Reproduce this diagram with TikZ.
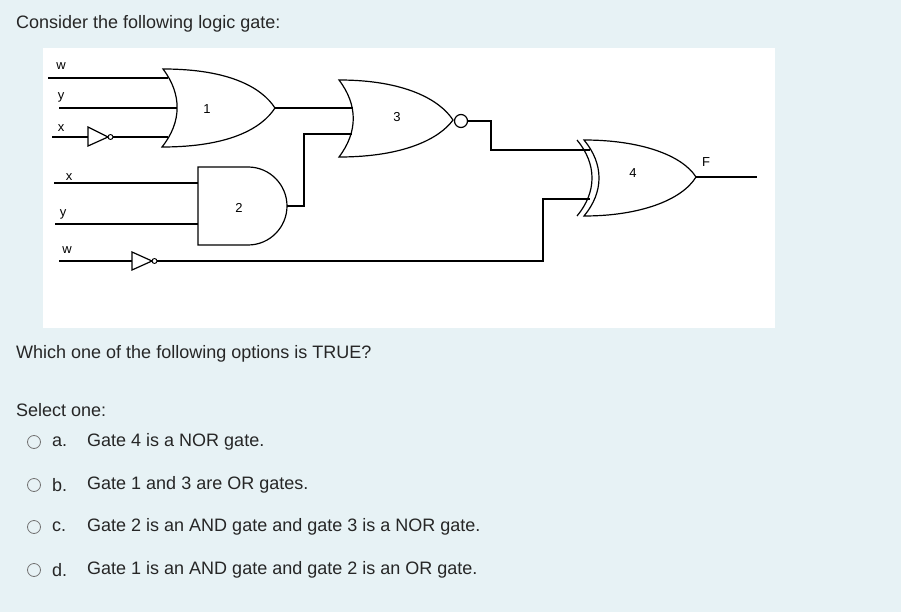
\documentclass[tikz,border=0pt]{standalone}
\usepackage{fontspec}
\setmainfont{Liberation Sans}
\begin{document}
\begin{tikzpicture}[x=1pt,y=-1pt,
  w/.style={line width=1.3pt,draw=black},
  g/.style={line width=1.2pt,draw=black},
  lab/.style={font=\fontsize{13}{15}\selectfont,inner sep=0pt},
  txt/.style={font=\fontsize{18}{21}\selectfont,text=black!85,inner sep=0pt,anchor=west},
  rad/.style={draw=black!55,line width=0.8pt,circle,minimum size=13pt,inner sep=0pt}]
\fill[fill={rgb,255:red,231;green,242;blue,245}] (0,0) rectangle (901,612);
\useasboundingbox (0,0) rectangle (901,612);
\fill[white] (43,48) rectangle (775,328);
% gate 1 OR
\draw[g] (163,69) .. controls (230,69) and (262,88) .. (275,108) .. controls (262,128) and (230,147) .. (162,147) .. controls (182,122) and (182,94) .. cycle;
% gate 3 NOR
\draw[g] (339,80) .. controls (405,80) and (440,100) .. (453,120) .. controls (440,138) and (405,157) .. (339,157) .. controls (358,132) and (358,105) .. cycle;
\node[draw,circle,line width=1.2pt,minimum size=13pt,inner sep=0pt] (b3) at (461,121) {};
% gate 2 AND
\draw[g] (198,167) -- (248,167) .. controls (270,167) and (287,185) .. (287,206) .. controls (287,227) and (270,245) .. (248,245) -- (198,245) -- cycle;
% gate 4 XOR
\draw[g] (584,140) .. controls (640,140) and (682,155) .. (696,177) .. controls (682,200) and (640,216) .. (584,216) .. controls (604,192) and (604,164) .. cycle;
\draw[g] (577,140) .. controls (597,164) and (597,192) .. (577,216);
% inverters
\draw[g] (88,127) -- (108,137) -- (88,146) -- cycle;
\node[draw,circle,line width=0.9pt,minimum size=5pt,inner sep=0pt] (i1) at (110.5,137) {};
\draw[g] (132,252) -- (152,261) -- (132,270) -- cycle;
\node[draw,circle,line width=0.9pt,minimum size=5pt,inner sep=0pt] (i2) at (154.5,261) {};
% wires
\draw[w] (48,78) -- (168,78);
\draw[w] (59,108) -- (177,108);
\draw[w] (52,137) -- (88,137);
\draw[w] (i1.east) -- (168,137);
\draw[w] (275,108) -- (353,108);
\draw[w] (287,206) -- (304,206) -- (304,134) -- (352,134);
\draw[w] (54,183) -- (198,183);
\draw[w] (55,224) -- (198,224);
\draw[w] (59,261) -- (132,261);
\draw[w] (i2.east) -- (543,261) -- (543,199) -- (590,199);
\draw[w] (b3.east) -- (491,121) -- (491,150) -- (590,150);
\draw[w] (696,177) -- (757,177);
% labels
\node[lab] at (61,66) {w};
\node[lab] at (61,97) {y};
\node[lab] at (61,128) {x};
\node[lab] at (69,177) {x};
\node[lab] at (63,214) {y};
\node[lab] at (67,250) {w};
\node[lab] at (207,109) {1};
\node[lab] at (397,117) {3};
\node[lab] at (239,208) {2};
\node[lab] at (633,173) {4};
\node[lab] at (706,162) {F};
% text
\node[txt] at (16,24) {Consider the following logic gate:};
\node[txt] at (16,354) {Which one of the following options is TRUE?};
\node[txt] at (16,410) {Select one:};
\foreach \y/\l/\t in {442/a./Gate 4 is a NOR gate.,485/b./Gate 1 and 3 are OR gates.,527/c./Gate 2 is an AND gate and gate 3 is a NOR gate.,570/d./Gate 1 is an AND gate and gate 2 is an OR gate.}{
  \node[rad] at (34,\y) {};
  \node[txt] at (52,\y) {\l};
  \node[txt] at (87,\y) {\t};
}
\end{tikzpicture}
\end{document}
